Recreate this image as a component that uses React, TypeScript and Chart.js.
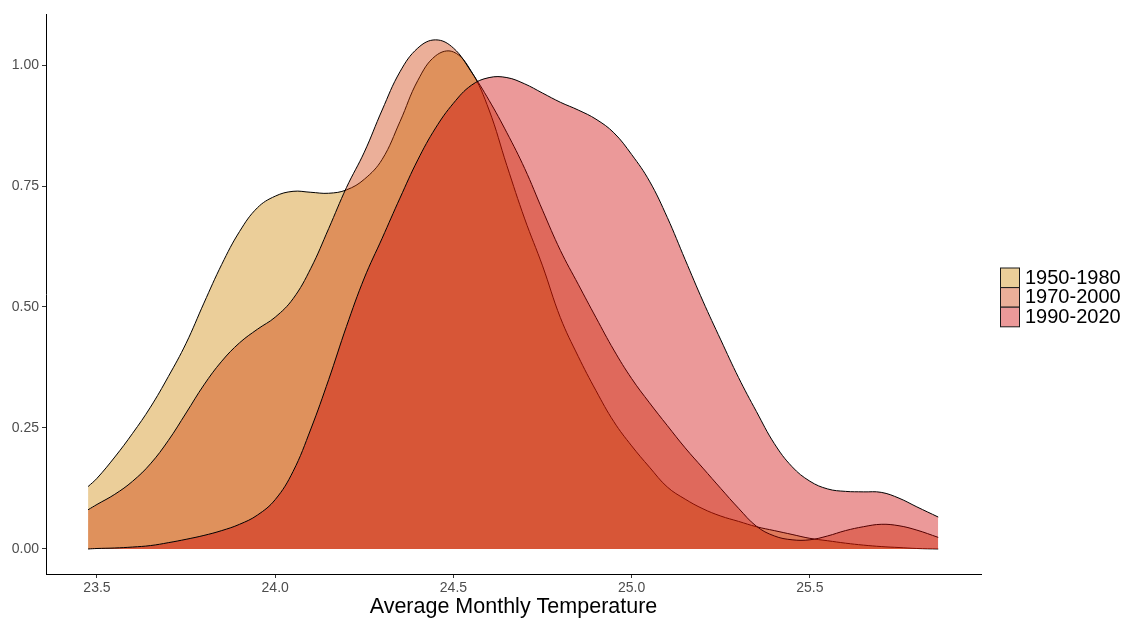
import React, { useEffect, useRef } from 'react';
import { Chart, registerables } from 'chart.js';

Chart.register(...registerables);

// Temperature grid (x values) where densities were read
const temps = [
  23.475, 23.5, 23.55, 23.6, 23.65, 23.7, 23.75, 23.8, 23.85, 23.9, 23.95,
  24.0, 24.05, 24.1, 24.15, 24.2, 24.25, 24.3, 24.35, 24.4, 24.45,
  24.5, 24.55, 24.6, 24.65, 24.7, 24.75, 24.8, 24.85, 24.9, 24.95,
  25.0, 25.05, 25.1, 25.15, 25.2, 25.25, 25.3, 25.35, 25.4, 25.45,
  25.5, 25.55, 25.6, 25.65, 25.7, 25.75, 25.8, 25.86,
];

const density1950 = [
  0.129, 0.146, 0.190, 0.239, 0.293, 0.356, 0.425, 0.508, 0.588, 0.656, 0.705,
  0.729, 0.739, 0.737, 0.735, 0.742, 0.764, 0.805, 0.883, 0.968, 1.019,
  1.027, 0.987, 0.907, 0.792, 0.682, 0.585, 0.478, 0.398, 0.327, 0.263,
  0.213, 0.169, 0.128, 0.103, 0.083, 0.068, 0.057, 0.046, 0.038, 0.030,
  0.022, 0.017, 0.012, 0.008, 0.005, 0.003, 0.001, 0.0,
];

const density1970 = [
  0.081, 0.092, 0.113, 0.140, 0.176, 0.224, 0.281, 0.339, 0.388, 0.426, 0.454,
  0.479, 0.517, 0.580, 0.662, 0.747, 0.820, 0.907, 0.986, 1.035, 1.052,
  1.035, 0.986, 0.927, 0.860, 0.786, 0.700, 0.617, 0.547, 0.478, 0.411,
  0.352, 0.302, 0.255, 0.209, 0.167, 0.125, 0.084, 0.047, 0.027, 0.019,
  0.019, 0.027, 0.038, 0.046, 0.051, 0.048, 0.039, 0.024,
];

const density1990 = [
  0.0, 0.001, 0.002, 0.004, 0.007, 0.013, 0.020, 0.028, 0.038, 0.051, 0.070,
  0.102, 0.160, 0.248, 0.350, 0.460, 0.560, 0.642, 0.725, 0.804, 0.870,
  0.921, 0.958, 0.974, 0.974, 0.961, 0.942, 0.923, 0.907, 0.888, 0.860,
  0.815, 0.760, 0.685, 0.598, 0.512, 0.432, 0.354, 0.284, 0.218, 0.170,
  0.140, 0.124, 0.119, 0.118, 0.117, 0.105, 0.087, 0.066,
];

const seriesLabels = ['1950-1980', '1970-2000', '1990-2020'];
const xTickValues = [23.5, 24.0, 24.5, 25.0, 25.5];
const yTickValues = [0, 0.25, 0.5, 0.75, 1.0];
const xTitle = 'Average Monthly Temperature';

const W = 1127;
const H = 619;
const FONT = '"Liberation Sans", Arial, Helvetica, sans-serif';
const FILLS = ['rgba(205,133,0,0.4)', 'rgba(205,55,0,0.4)', 'rgba(205,0,0,0.4)'];

export default function App() {
  const ref = useRef<HTMLCanvasElement | null>(null);

  useEffect(() => {
    document.body.style.margin = '0';
    const canvas = ref.current;
    if (!canvas) return;
    const series = [density1950, density1970, density1990];

    const keyLegend = {
      id: 'keyLegend',
      afterDraw(chart: any) {
        const ctx = chart.ctx as CanvasRenderingContext2D;
        ctx.save();
        const x0 = 1000.5;
        const y0 = 268;
        const row = 19.6;
        const bw = 19;
        seriesLabels.forEach((lab, i) => {
          const y = y0 + i * row;
          ctx.fillStyle = '#ffffff';
          ctx.fillRect(x0, y, bw, row);
          ctx.fillStyle = FILLS[i];
          ctx.fillRect(x0, y, bw, row);
          ctx.strokeStyle = '#1a1a1a';
          ctx.lineWidth = 1;
          ctx.strokeRect(x0, y, bw, row);
        });
        seriesLabels.forEach((lab, i) => {
          const y = y0 + i * row;
          ctx.fillStyle = '#000000';
          ctx.font = `20px ${FONT}`;
          ctx.textAlign = 'left';
          ctx.textBaseline = 'middle';
          ctx.fillText(lab, 1025, y + row / 2 + 0.5);
        });
        ctx.restore();
      },
    };

    const chart = new Chart(canvas, {
      type: 'line',
      data: {
        datasets: series.map((s, i) => ({
          label: seriesLabels[i],
          data: temps.map((t, j) => ({ x: t, y: s[j] })),
          fill: 'origin',
          backgroundColor: FILLS[i],
          borderColor: '#000000',
          borderWidth: 1,
          pointRadius: 0,
          pointHoverRadius: 0,
          tension: 0.4,
          order: 3 - i,
        })),
      },
      options: {
        responsive: false,
        animation: false,
        devicePixelRatio: 1,
        events: [],
        layout: { padding: { left: 0, top: 14, right: W - 981, bottom: 0 } },
        plugins: {
          legend: { display: false },
          tooltip: { enabled: false },
        },
        scales: {
          x: {
            type: 'linear',
            min: 23.357,
            max: 25.98,
            afterFit: (s: any) => {
              s.height = 45;
            },
            afterBuildTicks: (s: any) => {
              s.ticks = xTickValues.map((v) => ({ value: v }));
            },
            grid: {
              drawOnChartArea: false,
              drawTicks: true,
              tickLength: 4,
              color: '#333333',
              lineWidth: 1,
            },
            border: { display: true, color: '#000000', width: 1 },
            ticks: {
              color: '#4D4D4D',
              font: { family: FONT, size: 14 },
              padding: 2,
              maxRotation: 0,
              autoSkip: false,
              callback: (v: any) => Number(v).toFixed(1),
            },
            title: {
              display: true,
              text: xTitle,
              color: '#000000',
              font: { family: FONT, size: 21.5, lineHeight: 1.1 },
              padding: { top: 0, bottom: 0 },
            },
          },
          y: {
            type: 'linear',
            min: -0.0517,
            max: 1.1054,
            afterFit: (s: any) => {
              s.width = 46;
            },
            afterBuildTicks: (s: any) => {
              s.ticks = yTickValues.map((v) => ({ value: v }));
            },
            grid: {
              drawOnChartArea: false,
              drawTicks: true,
              tickLength: 4,
              color: '#333333',
              lineWidth: 1,
            },
            border: { display: true, color: '#000000', width: 1 },
            ticks: {
              color: '#4D4D4D',
              font: { family: FONT, size: 14 },
              padding: 3,
              callback: (v: any) => Number(v).toFixed(2),
            },
          },
        },
      },
      plugins: [keyLegend],
    } as any);

    return () => chart.destroy();
  }, []);

  return (
    <div style={{ position: 'absolute', left: 0, top: 0, width: W, height: H, background: '#ffffff' }}>
      <canvas ref={ref} width={W} height={H} style={{ width: W, height: H, display: 'block' }} />
    </div>
  );
}
